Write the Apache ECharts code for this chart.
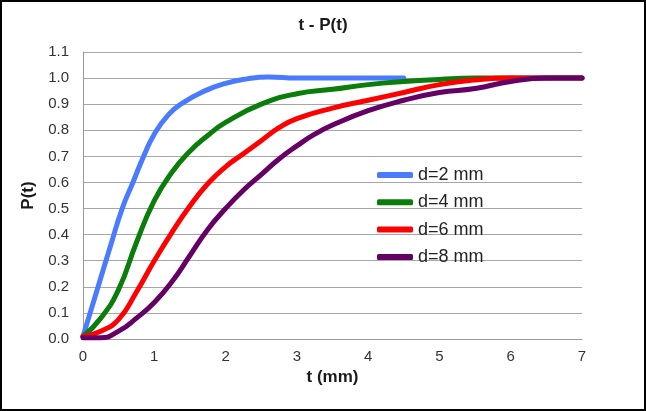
<!DOCTYPE html>
<html>
<head>
<meta charset="utf-8">
<script src="https://cdn.jsdelivr.net/npm/echarts@6/dist/echarts.min.js"></script>
<style>
html,body{margin:0;padding:0;background:#fff;}
#c{width:646px;height:411px;}
</style>
</head>
<body>
<div id="c"></div>
<script>
const seriesNames = ['d=2 mm', 'd=4 mm', 'd=6 mm', 'd=8 mm'];
const xTicks = [0, 1, 2, 3, 4, 5, 6, 7];

const t2 = [0, 0.2, 0.4, 0.55, 0.7, 0.85, 1.0, 1.2, 1.4, 1.7, 2.0, 2.3, 2.6, 3.0, 3.5, 4.0, 4.5];
const p2 = [0.01, 0.19, 0.37, 0.5, 0.6, 0.7, 0.785, 0.86, 0.905, 0.95, 0.98, 0.997, 1.004, 1.0, 1.0, 1.0, 1.0];

const t4 = [0, 0.25, 0.5, 0.75, 1.0, 1.25, 1.5, 1.75, 2.0, 2.5, 3.0, 3.5, 4.0, 4.5, 5.0, 5.5, 6.0, 7.0];
const p4 = [0.01, 0.08, 0.19, 0.37, 0.53, 0.64, 0.72, 0.78, 0.83, 0.9, 0.94, 0.957, 0.975, 0.987, 0.995, 1.0, 1.0, 1.0];

const t6 = [0, 0.25, 0.5, 0.75, 1.0, 1.25, 1.5, 1.75, 2.0, 2.25, 2.5, 2.75, 3.0, 3.5, 4.0, 4.5, 5.0, 5.5, 6.0, 7.0];
const p6 = [0.01, 0.03, 0.075, 0.18, 0.3, 0.41, 0.51, 0.595, 0.66, 0.71, 0.76, 0.81, 0.845, 0.885, 0.915, 0.945, 0.975, 0.993, 1.0, 1.0];

const t8 = [0, 0.25, 0.5, 0.75, 1.0, 1.25, 1.5, 1.75, 2.0, 2.25, 2.5, 2.75, 3.0, 3.25, 3.5, 4.0, 4.5, 5.0, 5.5, 6.0, 6.5, 7.0];
const p8 = [0.005, 0.005, 0.03, 0.08, 0.14, 0.22, 0.32, 0.42, 0.5, 0.57, 0.63, 0.69, 0.74, 0.785, 0.82, 0.875, 0.915, 0.945, 0.96, 0.987, 1.0, 1.0];

const colors = ['#4A7BFF', '#0A7D0A', '#FF0000', '#650065'];

function zip(a, b) { return a.map((v, i) => [v, b[i]]); }
const allData = [zip(t2, p2), zip(t4, p4), zip(t6, p6), zip(t8, p8)];

const chart = echarts.init(document.getElementById('c'), null, {renderer: 'canvas'});
const font = 'Liberation Sans, Arial, sans-serif';

chart.setOption({
  animation: false,
  backgroundColor: '#fff',
  title: {
    text: 't - P(t)',
    left: 'center',
    top: 12,
    textStyle: {fontFamily: font, fontSize: 17, fontWeight: 'bold', color: '#1a1a1a'}
  },
  graphic: [{
    type: 'rect',
    shape: {x: 1, y: 1, width: 644, height: 409},
    style: {fill: 'none', stroke: '#000', lineWidth: 2},
    silent: true, z: 100
  }],
  legend: {
    orient: 'vertical',
    left: 372,
    top: 160,
    itemWidth: 36,
    itemHeight: 6,
    itemGap: 7.3,
    icon: 'roundRect',
    data: seriesNames,
    textStyle: {fontFamily: font, fontSize: 18, color: '#222', lineHeight: 20}
  },
  grid: {left: 83, right: 64, top: 52, bottom: 72},
  xAxis: {
    type: 'value',
    min: 0, max: 7, interval: 1,
    name: 't (mm)',
    nameLocation: 'middle',
    nameGap: 30,
    nameTextStyle: {fontFamily: font, fontSize: 17, fontWeight: 'bold', color: '#1a1a1a'},
    axisLine: {show: true, lineStyle: {color: '#999', width: 1}},
    axisTick: {show: false},
    splitLine: {show: false},
    axisLabel: {
      margin: 10, fontFamily: font, fontSize: 15, color: '#333',
      formatter: v => (xTicks.indexOf(v) >= 0 ? String(v) : '')
    }
  },
  yAxis: {
    type: 'value',
    min: 0, max: 1.1, interval: 0.1,
    name: 'P(t)',
    nameLocation: 'middle',
    nameGap: 43,
    nameTextStyle: {fontFamily: font, fontSize: 17, fontWeight: 'bold', color: '#1a1a1a'},
    axisLine: {show: true, lineStyle: {color: '#999', width: 1}},
    axisTick: {show: false},
    splitLine: {show: true, lineStyle: {color: '#A6A6A6', width: 1}},
    axisLabel: {
      margin: 14, fontFamily: font, fontSize: 15, color: '#333',
      formatter: v => v.toFixed(1)
    }
  },
  series: allData.map((d, i) => ({
    name: seriesNames[i],
    type: 'line',
    data: d,
    smooth: 0.5,
    showSymbol: false,
    symbol: 'none',
    lineStyle: {width: 5, color: colors[i], cap: 'round'},
    itemStyle: {color: colors[i]},
    z: 2 + i
  }))
});
</script>
</body>
</html>
